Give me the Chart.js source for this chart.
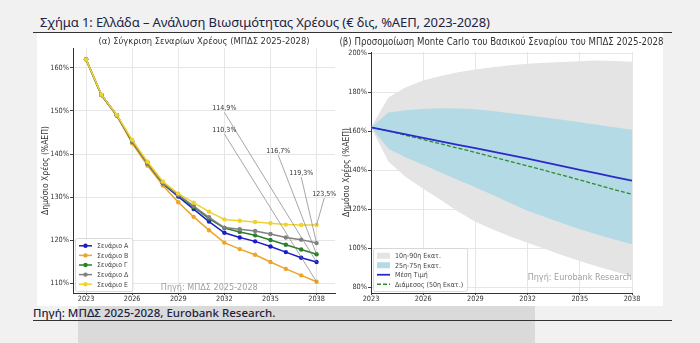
<!DOCTYPE html>
<html lang="el">
<head>
<meta charset="utf-8">
<title>Ελλάδα – Ανάλυση Βιωσιμότητας Χρέους</title>
<script src="https://cdn.jsdelivr.net/npm/chart.js@4.4.1/dist/chart.umd.min.js"></script>
<style>
  html, body { margin: 0; padding: 0; }
  body {
    width: 700px; height: 343px; position: relative; overflow: hidden;
    background: #f1f1f1; font-family: 'Noto Sans', 'Open Sans', sans-serif;
  }
  #shade { position: absolute; left: 78px; top: 306px; width: 457px; height: 37px; background: #dadada; }
  #panel { position: absolute; left: 37px; top: 33px; width: 626px; height: 273px; background: #fff; }
  #heading {
    position: absolute; left: 40px; top: 13px; font-size: 13px; color: #1d2340;
    white-space: nowrap; letter-spacing: -0.1px;
  }
  #source {
    position: absolute; left: 33px; top: 305px; font-size: 11.5px; color: #1d2340;
    white-space: nowrap; font-weight: 500;
  }
  .rule { position: absolute; left: 33px; width: 639px; height: 1px; background: #333; }
  .chart-box { position: absolute; top: 33px; height: 272px; }
  #leftBox { left: 37px; width: 303px; }
  #rightBox { left: 338px; width: 325px; }
</style>
</head>
<body>
<div id="shade"></div>
<div id="panel"></div>
<div id="heading">Σχήμα 1: Ελλάδα – Ανάλυση Βιωσιμότητας Χρέους (€ δις, %ΑΕΠ, 2023-2028)</div>
<div class="rule" style="top:32px"></div>
<div class="chart-box" id="leftBox"><canvas id="scenarios"></canvas></div>
<div class="chart-box" id="rightBox"><canvas id="montecarlo"></canvas></div>
<div id="source">Πηγή: ΜΠΔΣ 2025-2028, Eurobank Research.</div>
<div class="rule" style="top:320px"></div>

<script>
// years on the horizontal axis
const years = [2023, 2024, 2025, 2026, 2027, 2028, 2029, 2030, 2031, 2032, 2033, 2034, 2035, 2036, 2037, 2038];
const yearTicks = [2023, 2026, 2029, 2032, 2035, 2038];

// debt paths per scenario (% of GDP)
const scenarioA = [162.0, 153.7, 149.0, 142.8, 137.7, 133.1, 130.1, 127.2, 124.3, 121.7, 120.6, 119.7, 118.5, 117.2, 115.9, 114.9];
const scenarioB = [162.0, 153.7, 148.9, 142.5, 137.3, 132.7, 128.8, 125.4, 122.3, 119.4, 117.9, 116.6, 114.9, 113.3, 111.8, 110.3];
const scenarioC = [162.0, 153.7, 149.0, 142.9, 137.8, 133.2, 130.4, 127.7, 125.0, 122.8, 121.9, 121.1, 120.0, 118.9, 117.8, 116.7];
const scenarioD = [162.0, 153.7, 149.0, 143.0, 137.9, 133.3, 130.5, 127.9, 125.3, 122.9, 122.5, 122.1, 121.4, 120.6, 120.1, 119.3];
const scenarioE = [162.0, 153.8, 149.1, 143.3, 138.2, 133.6, 130.8, 128.7, 126.6, 124.8, 124.5, 124.2, 123.9, 123.6, 123.5, 123.5];
const scenarioTicks = [110, 120, 130, 140, 150, 160];

// Monte Carlo percentiles of the baseline scenario
const p10 = [162.0, 144.5, 136.5, 130.5, 124.8, 118.8, 113.5, 109.6, 106.0, 102.8, 99.6, 96.4, 93.4, 90.6, 88.0, 85.6];
const p25 = [162.0, 151.0, 146.5, 142.8, 138.8, 135.0, 131.2, 127.3, 123.2, 119.2, 116.0, 112.8, 109.7, 107.0, 104.4, 102.0];
const p75 = [162.0, 169.6, 170.7, 171.4, 171.8, 171.6, 171.2, 170.3, 169.2, 168.1, 167.0, 165.8, 164.6, 163.3, 162.0, 160.7];
const p90 = [162.0, 177.3, 182.5, 186.0, 188.3, 190.2, 191.6, 192.8, 193.8, 194.6, 195.1, 195.5, 195.9, 196.3, 196.0, 195.6];
const meanPath = [162.0, 160.2, 158.4, 156.6, 154.8, 153.0, 151.3, 149.5, 147.7, 145.9, 144.0, 142.1, 140.2, 138.3, 136.4, 134.6];
const medianPath = [162.0, 160.1, 157.9, 155.7, 153.5, 151.3, 149.1, 146.8, 144.5, 142.2, 139.8, 137.4, 135.0, 132.5, 130.0, 127.6];
const monteCarloTicks = [80, 100, 120, 140, 160, 180, 200];

const narrow = "'Liberation Sans Narrow', 'DejaVu Sans Condensed', 'Liberation Sans', sans-serif";
const pairs = values => values.map((v, i) => ({ x: years[i], y: v }));
const pct = v => v + '%';
const fmtPct = v => v.toFixed(1).replace('.', ',') + '%';

// legend drawn as a framed box inside the plot area, bottom-left
const boxLegend = {
  id: 'boxLegend',
  afterDraw(chart, args, opts) {
    const { ctx, chartArea } = chart;
    const items = opts.entries.map(i => chart.data.datasets[i]);
    ctx.save();
    ctx.font = `${opts.fontSize}px ${narrow}`;
    const textW = Math.max(...items.map(d => ctx.measureText(d.label).width));
    const w = 4 + 13 + 5 + textW + 4;
    const h = items.length * opts.row + 5;
    const left = chartArea.left + 2;
    const top = chartArea.bottom - 2 - h;
    ctx.fillStyle = 'rgba(255,255,255,0.85)';
    ctx.strokeStyle = '#d0d0d0';
    ctx.lineWidth = 0.8;
    ctx.beginPath();
    ctx.roundRect(left + 0.5, top + 0.5, w, h, 2);
    ctx.fill();
    ctx.stroke();
    items.forEach((d, k) => {
      const cy = top + 3 + opts.row * (k + 0.5);
      const sx = left + 4;
      if (d.fill) {
        ctx.fillStyle = d.backgroundColor;
        ctx.fillRect(sx, cy - 3, 13, 6);
      } else {
        ctx.strokeStyle = d.borderColor;
        ctx.lineWidth = d.borderWidth;
        ctx.setLineDash(d.borderDash || []);
        ctx.beginPath();
        ctx.moveTo(sx, cy);
        ctx.lineTo(sx + 13, cy);
        ctx.stroke();
        ctx.setLineDash([]);
        if (d.pointRadius) {
          ctx.fillStyle = d.borderColor;
          ctx.beginPath();
          ctx.arc(sx + 6.5, cy, d.pointRadius, 0, Math.PI * 2);
          ctx.fill();
        }
      }
      ctx.fillStyle = '#444';
      ctx.textAlign = 'left';
      ctx.textBaseline = 'middle';
      ctx.fillText(d.label, sx + 18, cy + 0.5);
    });
    ctx.restore();
  }
};

// faint source note inside the plot area
const sourceNote = {
  id: 'sourceNote',
  afterDatasetsDraw(chart, args, opts) {
    const { ctx, chartArea } = chart;
    ctx.save();
    ctx.font = `${opts.fontSize}px ${narrow}`;
    ctx.fillStyle = '#a0a0a0';
    ctx.textAlign = opts.align;
    ctx.textBaseline = 'middle';
    const x = chartArea.left + opts.fx * (chartArea.right - chartArea.left);
    const y = chartArea.bottom - opts.fy * (chartArea.bottom - chartArea.top);
    ctx.fillText(opts.text, x, y);
    ctx.restore();
  }
};

// panel heading centred on the whole canvas, never squeezed to the plot width
const panelTitle = {
  id: 'panelTitle',
  afterDraw(chart, args, opts) {
    const { ctx, width } = chart;
    ctx.save();
    ctx.font = `${opts.fontSize}px ${narrow}`;
    ctx.fillStyle = '#333';
    ctx.textAlign = 'center';
    ctx.textBaseline = 'middle';
    ctx.fillText(opts.text, width / 2 + opts.dx, opts.y);
    ctx.restore();
  }
};

// final-year values with leader lines to the 2038 points
const endLabels = {
  id: 'endLabels',
  afterDatasetsDraw(chart, args, opts) {
    const { ctx, scales: { x, y } } = chart;
    ctx.save();
    ctx.font = `7px ${narrow}`;
    ctx.textAlign = 'center';
    ctx.textBaseline = 'middle';
    opts.items.forEach(item => {
      const data = chart.data.datasets[item.dataset].data;
      const last = data[data.length - 1];
      const px = x.getPixelForValue(last.x);
      const py = y.getPixelForValue(last.y);
      const tx = x.getPixelForValue(item.at[0]);
      const ty = y.getPixelForValue(item.at[1]);
      ctx.strokeStyle = '#808080';
      ctx.lineWidth = 0.7;
      ctx.beginPath();
      ctx.moveTo(tx, ty + 4);
      ctx.lineTo(px, py);
      ctx.stroke();
      ctx.fillStyle = '#333';
      ctx.fillText(fmtPct(last.y), tx, ty);
    });
    ctx.restore();
  }
};

// later scenarios sit on top of earlier ones
const lineSet = (label, values, color, order) => ({
  label, data: pairs(values), borderColor: color, backgroundColor: color, order,
  borderWidth: 1.5, pointRadius: 2.2, pointBorderWidth: 0, fill: false, tension: 0
});

const tickFont = { family: narrow, size: 7.3 };
const axisTitle = text => ({
  display: true, text, color: '#333', font: { family: narrow, size: 8.5 }, padding: { top: 4, bottom: 0 }
});

new Chart(document.getElementById('scenarios'), {
  type: 'line',
  data: {
    datasets: [
      lineSet('Σενάριο Α', scenarioA, '#1c1cc4', 5),
      lineSet('Σενάριο Β', scenarioB, '#eba528', 4),
      lineSet('Σενάριο Γ', scenarioC, '#2a7f2a', 3),
      lineSet('Σενάριο Δ', scenarioD, '#808080', 2),
      lineSet('Σενάριο Ε', scenarioE, '#f0d22e', 1)
    ]
  },
  plugins: [boxLegend, sourceNote, endLabels],
  options: {
    responsive: true,
    maintainAspectRatio: false,
    animation: false,
    layout: { padding: { left: 0, right: 5, top: 0, bottom: 0 } },
    plugins: {
      legend: { display: false },
      tooltip: { enabled: false },
      title: {
        display: true, fullSize: false,
        text: '(α) Σύγκριση Σεναρίων Χρέους (ΜΠΔΣ 2025-2028)',
        color: '#333', font: { family: narrow, size: 9.3, weight: 'normal' },
        padding: { top: 3, bottom: 1 }
      },
      boxLegend: { entries: [0, 1, 2, 3, 4], row: 9.6, fontSize: 7 },
      sourceNote: { text: 'Πηγή: ΜΠΔΣ 2025-2028', fx: 0.52, fy: 0.022, align: 'center', fontSize: 9 },
      endLabels: {
        items: [
          { dataset: 0, at: [2032.0, 150.6] },
          { dataset: 1, at: [2032.0, 145.6] },
          { dataset: 2, at: [2035.5, 140.7] },
          { dataset: 3, at: [2037.0, 135.6] },
          { dataset: 4, at: [2038.5, 130.7] }
        ]
      }
    },
    scales: {
      x: {
        type: 'linear', min: 2022.15, max: 2039.2,
        afterBuildTicks: s => { s.ticks = yearTicks.map(v => ({ value: v })); },
        afterFit: s => { s.height = 12; },
        ticks: { callback: v => String(v), color: '#333', font: tickFont, padding: 0, maxRotation: 0 },
        grid: { color: '#e6e6e6', tickColor: '#444', tickLength: 2 },
        border: { color: '#333', width: 1 }
      },
      y: {
        min: 107.7, max: 164.6,
        afterBuildTicks: s => { s.ticks = scenarioTicks.map(v => ({ value: v })); },
        afterFit: s => { s.width = 36; },
        ticks: { callback: pct, color: '#333', font: tickFont, padding: 1 },
        grid: { color: '#e6e6e6', tickColor: '#444', tickLength: 3 },
        border: { color: '#333', width: 1 },
        title: axisTitle('Δημόσιο Χρέος (%ΑΕΠ)')
      }
    }
  }
});

const band = (label, values, color, fill) => ({
  label, data: pairs(values), borderWidth: 0, pointRadius: 0,
  backgroundColor: color, borderColor: color, fill
});

new Chart(document.getElementById('montecarlo'), {
  type: 'line',
  data: {
    datasets: [
      { label: 'Μέση Τιμή', data: pairs(meanPath), borderColor: '#2a2ac8', borderWidth: 1.8, pointRadius: 0, fill: false },
      { label: 'Διάμεσος (50η Εκατ.)', data: pairs(medianPath), borderColor: '#2e8b2e', borderWidth: 1.3, borderDash: [4, 2], pointRadius: 0, fill: false },
      band('25η-75η Εκατ.', p75, '#b4dae5', '+1'),
      band('25η', p25, '#b4dae5', false),
      band('10η-90η Εκατ.', p90, '#e4e4e4', '+1'),
      band('10η', p10, '#e4e4e4', false)
    ]
  },
  plugins: [boxLegend, sourceNote, panelTitle],
  options: {
    responsive: true,
    maintainAspectRatio: false,
    animation: false,
    layout: { padding: { left: 0, right: 31, top: 19, bottom: 0 } },
    plugins: {
      legend: { display: false },
      tooltip: { enabled: false },
      title: { display: false },
      panelTitle: {
        text: '(β) Προσομοίωση Monte Carlo του Βασικού Σεναρίου του ΜΠΔΣ 2025-2028',
        fontSize: 9.6, dx: 1, y: 9
      },
      filler: { propagate: false },
      boxLegend: { entries: [4, 2, 0, 1], row: 9.5, fontSize: 7 },
      sourceNote: { text: 'Πηγή: Eurobank Research', fx: 1.0, fy: 0.062, align: 'right', fontSize: 9 }
    },
    scales: {
      x: {
        type: 'linear', min: 2023, max: 2038,
        afterBuildTicks: s => { s.ticks = yearTicks.map(v => ({ value: v })); },
        afterFit: s => { s.height = 12; },
        ticks: { callback: v => String(v), color: '#333', font: tickFont, padding: 0, maxRotation: 0 },
        grid: { color: '#e6e6e6', tickColor: '#444', tickLength: 2 },
        border: { color: '#333', width: 1 }
      },
      y: {
        min: 77, max: 200.6,
        afterBuildTicks: s => { s.ticks = monteCarloTicks.map(v => ({ value: v })); },
        afterFit: s => { s.width = 33; },
        ticks: { callback: pct, color: '#333', font: tickFont, padding: 1 },
        grid: { color: '#e6e6e6', tickColor: '#444', tickLength: 3 },
        border: { color: '#333', width: 1 },
        title: axisTitle('Δημόσιο Χρέος (%ΑΕΠ)')
      }
    }
  }
});
</script>
</body>
</html>
